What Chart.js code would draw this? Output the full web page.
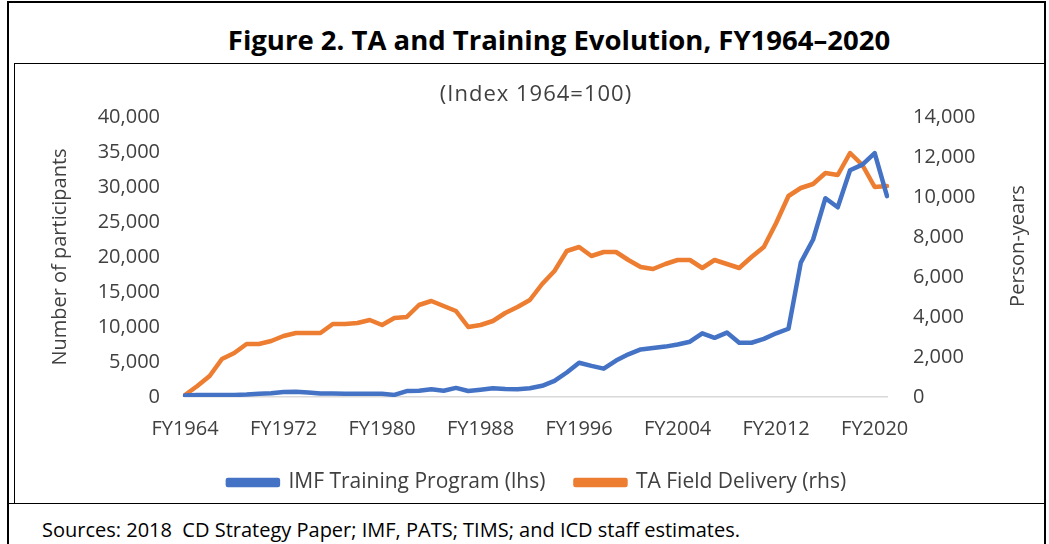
<!DOCTYPE html>
<html>
<head>
<meta charset="utf-8">
<script src="https://cdn.jsdelivr.net/npm/chart.js@4.4.1/dist/chart.umd.min.js"></script>
<style>
  body { margin: 0; width: 1049px; height: 544px; background: #fff; position: relative; overflow: hidden; font-family: "Open Sans", sans-serif; }
  #frame { position: absolute; left: 7px; top: 1px; width: 1035px; height: 600px; border: 2px solid #000; border-bottom: none; }
  #box { position: absolute; left: 14px; top: 63px; width: 1029px; height: 440px; border-left: 1px solid #000; border-top: 1px solid #000; }
  #rule { position: absolute; left: 8px; top: 503px; width: 1036px; height: 0; border-top: 1px solid #000; }
  #title { position: absolute; left: 59px; width: 1000px; top: 21px; text-align: center; font-weight: bold; font-size: 27.5px; color: #000; line-height: 38px; }
  #source { position: absolute; left: 42px; top: 516px; font-size: 20px; color: #000; line-height: 28px; white-space: nowrap; }
  #wrap { position: absolute; left: 26px; top: 63px; width: 1022px; height: 440px; }
</style>
</head>
<body>
<div id="frame"></div>
<div id="box"></div>
<div id="rule"></div>
<div id="title">Figure 2. TA and Training Evolution, FY1964–2020</div>
<div id="source">Sources: 2018&nbsp; CD Strategy Paper; IMF, PATS; TIMS; and ICD staff estimates.</div>
<div id="wrap"><canvas id="chart"></canvas></div>
<script>
// DATA
const years = [];
for (let y = 1964; y <= 2021; y++) years.push("FY" + y);

// IMF Training Program, participants (lhs)
const training = [
  200, 300, 300, 300, 300, 350, 450, 550, 700, 750,
  650, 500, 500, 450, 450, 450, 450, 300, 850, 900,
  1100, 900, 1300, 850, 1050, 1250, 1150, 1100, 1250, 1600,
  2300, 3500, 4900, 4450, 4050, 5200, 6100, 6800, 7000, 7200,
  7500, 7900, 9100, 8450, 9200, 7750, 7750, 8300, 9100, 9750,
  19200, 22500, 28400, 27100, 32400, 33200, 34850, 28700
];

// TA Field Delivery, person-years (rhs)
const taDelivery = [
  100, 550, 1050, 1900, 2200, 2650, 2650, 2800, 3050, 3200,
  3200, 3200, 3650, 3650, 3700, 3850, 3600, 3950, 4000, 4600,
  4800, 4550, 4300, 3500, 3600, 3800, 4200, 4500, 4850, 5650,
  6300, 7300, 7500, 7050, 7250, 7250, 6850, 6500, 6400, 6650,
  6850, 6850, 6450, 6850, 6650, 6450, 7000, 7500, 8700, 10050,
  10450, 10650, 11200, 11100, 12200, 11600, 10500, 10550
];

const subtitle = "(Index 1964=100)";
const leftTitle = "Number of participants";
const rightTitle = "Person-years";

const textColor = "#404040";
const font = { family: '"Open Sans", sans-serif', size: 20 };

// subtitle + right axis title (reads bottom to top like the left one)
const extraText = {
  id: "extraText",
  afterDraw(chart) {
    const { ctx, chartArea } = chart;
    ctx.save();
    ctx.fillStyle = textColor;
    ctx.textAlign = "center";
    ctx.textBaseline = "middle";
    ctx.font = '22px "Open Sans", sans-serif';
    ctx.letterSpacing = "1px";
    ctx.fillText(subtitle, (chartArea.left + chartArea.right) / 2, 32);
    ctx.letterSpacing = "0px";
    ctx.font = '20px "Open Sans", sans-serif';
    ctx.translate(992, (chartArea.top + chartArea.bottom) / 2 - 11);
    ctx.rotate(-Math.PI / 2);
    ctx.fillText(rightTitle, 0, 0);
    ctx.restore();
  }
};

const ctx = document.getElementById("chart").getContext("2d");
new Chart(ctx, {
  type: "line",
  data: {
    labels: years,
    datasets: [
      {
        label: "IMF Training Program (lhs)",
        data: training,
        yAxisID: "y",
        borderColor: "#4472C4",
        backgroundColor: "#4472C4",
        borderWidth: 4.5,
        pointRadius: 0,
        borderJoinStyle: "round",
        borderCapStyle: "round"
      },
      {
        label: "TA Field Delivery (rhs)",
        data: taDelivery,
        yAxisID: "y1",
        borderColor: "#ED7D31",
        backgroundColor: "#ED7D31",
        borderWidth: 4.5,
        pointRadius: 0,
        borderJoinStyle: "round",
        borderCapStyle: "round"
      }
    ]
  },
  options: {
    responsive: true,
    maintainAspectRatio: false,
    animation: false,
    layout: { padding: { top: 54, left: 0, right: 0, bottom: 0 } },
    plugins: {
      title: { display: false },
      tooltip: { enabled: false },
      legend: {
        position: "bottom",
        labels: {
          color: textColor,
          font: { family: '"Open Sans", sans-serif', size: 21 },
          boxWidth: 50,
          boxHeight: 5,
          padding: 30
        }
      }
    },
    scales: {
      x: {
        offset: false,
        grid: { display: false, drawTicks: false },
        border: { display: true, color: "#D9D9D9", width: 1.5 },
        ticks: {
          color: textColor,
          font: font,
          autoSkip: false,
          maxRotation: 0,
          padding: 20,
          callback: (v, i) => (i % 8 === 0 ? years[i] : "")
        },
        afterFit: (s) => { s.height = 45; }
      },
      y: {
        position: "left",
        min: 0,
        max: 40000,
        grid: { display: false, drawTicks: false },
        border: { display: false },
        ticks: {
          stepSize: 5000,
          color: textColor,
          font: font,
          padding: 25,
          callback: (v) => v.toLocaleString("en-US")
        },
        title: {
          display: true,
          text: leftTitle,
          color: textColor,
          font: font,
          padding: { top: 22, bottom: 0 }
        },
        afterFit: (s) => { s.width = 159; }
      },
      y1: {
        position: "right",
        min: 0,
        max: 14000,
        grid: { display: false, drawTicks: false },
        border: { display: false },
        ticks: {
          stepSize: 2000,
          color: textColor,
          font: font,
          padding: 26,
          callback: (v) => v.toLocaleString("en-US")
        },
        afterFit: (s) => { s.width = 161; }
      }
    }
  },
  plugins: [extraText]
});
</script>
</body>
</html>
